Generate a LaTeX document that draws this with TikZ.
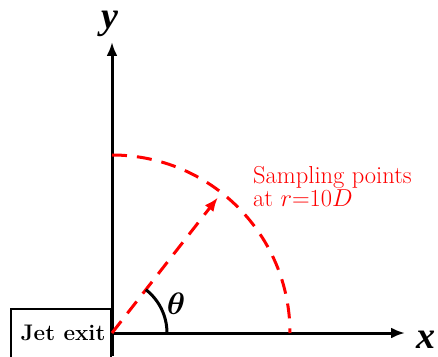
\RequirePackage{fix-cm}
\documentclass[tikz,border=0pt]{standalone}
\usepackage{fontspec}
\newfontfamily\timesfont{Liberation Serif}
\usepackage{tikz}
\usetikzlibrary{arrows.meta,positioning,calc}

\begin{document}
\begin{tikzpicture}[x=1pt,y=1pt,>={Latex[length=14pt,width=11pt]},
    axis/.style={->,line width=3pt},
    axislabel/.style={font=\fontsize{38}{42}\selectfont\timesfont\bfseries\itshape,anchor=base,inner sep=0pt},
    sample/.style={red,line width=3pt,dash pattern=on 15pt off 10pt}]
    \useasboundingbox (0,0) rectangle (438,356);
    \coordinate (O) at (112,23);
    \coordinate (ybot) at (112,0);
    \coordinate (ytop) at (112,314);
    \coordinate (xend) at (405,23);
    \node[draw,line width=2pt,anchor=south east,minimum width=100pt,%
      minimum height=50pt] (jet) at (112,-4) {};
    \node[font=\fontsize{22.5}{26}\selectfont\bfseries,anchor=base] (jetlabel) at (63,16) {Jet exit};
    \draw[axis] (ybot) -- (ytop);
    \draw[axis] (O) -- (xend);
    \node[axislabel] (ylabel) at (110,327) {y};
    \node[axislabel] (xlabel) at (426,8) {x};
    % sampling circle
    \draw[sample] (O) ++(90:178) arc (90:0:178);
    \coordinate (tip) at ($(O)+(52:172)$);
    \draw[sample,->] (O) -- (tip);
    \draw[line width=3pt] (O) ++(0:55) arc (0:52:55);
    \node[font=\fontsize{31}{34}\selectfont\boldmath] (theta) at (176,52) {$\theta$};
    \node[red,align=left,anchor=north west,inner sep=0pt,%
      font=\fontsize{24.5}{23}\selectfont] (note) at (253,190) {Sampling points\\at $r$=10$D$};
  \end{tikzpicture}
\end{document}
